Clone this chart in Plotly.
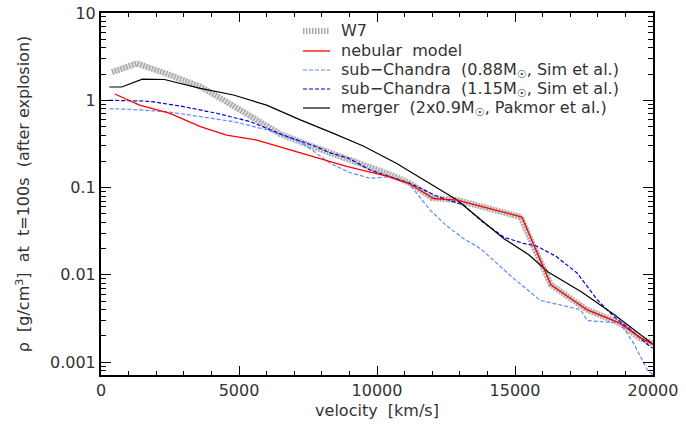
import plotly.graph_objects as go

# Density profiles at t = 100 s after explosion (velocity in km/s, density in g/cm^3)
w7_v = [400, 1300, 2500, 3600, 4500, 5500, 6500, 7500, 8500, 9500, 10500, 11200,
        12000, 12900, 15200, 16300, 17000, 17600, 18800, 19500, 20000]
w7_rho = [2.1, 2.65, 1.95, 1.43, 0.98, 0.64, 0.41, 0.31, 0.24, 0.18, 0.14, 0.112,
          0.076, 0.072, 0.046, 0.0077, 0.0054, 0.0040, 0.0028, 0.0019, 0.00163]

neb_v = [500, 1400, 2500, 3600, 4550, 5650, 6700, 7900, 8900, 10350, 11150, 12050,
         12900, 15250, 16300, 17000, 17600, 18800, 19550, 20000]
neb_rho = [1.18, 0.88, 0.71, 0.50, 0.40, 0.35, 0.28, 0.215, 0.175, 0.135, 0.112, 0.075,
           0.072, 0.046, 0.0077, 0.0054, 0.0040, 0.0028, 0.0019, 0.0016]

sub088_v = [300, 1000, 2400, 3600, 4800, 6000, 7200, 8300, 9030, 9750, 10480, 11150,
            11930, 12500, 13140, 13750, 14110, 14950, 15920, 16650, 17370, 17620,
            18200, 18820, 19300, 19800, 20000]
sub088_rho = [0.80, 0.79, 0.74, 0.65, 0.57, 0.46, 0.34, 0.19, 0.148, 0.128, 0.133, 0.112,
              0.055, 0.037, 0.026, 0.020, 0.0158, 0.0091, 0.0051, 0.0045, 0.0040, 0.0030,
              0.0029, 0.0028, 0.00164, 0.00081, 0.00072]

sub115_v = [300, 1600, 2000, 3000, 4200, 5400, 6600, 7800, 8300, 8970, 9750, 11200,
            12200, 13140, 13800, 14600, 15300, 15800, 16500, 17250, 18000, 18600,
            19200, 19900, 20000]
sub115_rho = [1.0, 0.98, 0.95, 0.845, 0.71, 0.57, 0.40, 0.294, 0.25, 0.217, 0.159, 0.112,
              0.079, 0.063, 0.041, 0.027, 0.023, 0.0213, 0.0162, 0.0105, 0.0051, 0.0033,
              0.00234, 0.0015, 0.00145]

merger_v = [300, 750, 1500, 2300, 3600, 4800, 6000, 7200, 8400, 9500, 10700, 11900,
            12900, 13750, 14600, 15500, 16200, 17400, 18600, 19800, 20000]
merger_rho = [1.42, 1.42, 1.75, 1.73, 1.37, 1.15, 0.88, 0.60, 0.42, 0.30, 0.19, 0.113,
              0.072, 0.043, 0.026, 0.017, 0.0108, 0.0064, 0.0035, 0.0018, 0.0016]

y_tickvals = [0.001, 0.01, 0.1, 1, 10]
y_ticktext = ["0.001", "0.01", "0.1", "1", "10"]
x_tickvals = [0, 5000, 10000, 15000, 20000]
x_ticktext = ["0", "5000", "10000", "15000", "20000"]

FONT = "DejaVu Sans"
TEXT = "#333333"
MSUN = "M<sub>\u2609</sub>"
NB = "\u00a0"

W, H = 686, 425
ML, MR, MT, MB = 101, 33, 13, 50
PW, PH = W - ML - MR, H - MT - MB


def px_x(px):
    return (px - ML) / PW


def px_y(py):
    return (H - MB - py) / PH


# legend entries: label, line style (drawn as a key beside the text)
legend_items = [
    ("W7", dict(color="#a8a8a8", width=6, dash="1.5px,1.5px")),
    ("nebular" + NB * 2 + "model", dict(color="#ff0000", width=1.3)),
    ("sub\u2212Chandra" + NB * 2 + "(0.88" + MSUN + "," + NB + "Sim" + NB + "et" + NB + "al.)",
     dict(color="#5b8cff", width=1.2, dash="4px,2px")),
    ("sub\u2212Chandra" + NB * 2 + "(1.15" + MSUN + "," + NB + "Sim" + NB + "et" + NB + "al.)",
     dict(color="#0000d8", width=1.2, dash="4px,2px")),
    ("merger" + NB * 2 + "(2x0.9" + MSUN + "," + NB + "Pakmor" + NB + "et" + NB + "al.)",
     dict(color="black", width=1.2)),
]
legend_rows = [31, 51, 70, 89, 108]

fig = go.Figure()

# W7: broad grey band with a hatched overlay
fig.add_trace(go.Scatter(x=w7_v, y=w7_rho, mode="lines", showlegend=False,
                         line=dict(color="#e2e2e2", width=6), hoverinfo="skip"))
fig.add_trace(go.Scatter(x=w7_v, y=w7_rho, mode="lines", name="W7", showlegend=False,
                         line=legend_items[0][1]))
fig.add_trace(go.Scatter(x=sub088_v, y=sub088_rho, mode="lines", showlegend=False,
                         name="sub-Chandra 0.88", line=legend_items[2][1]))
fig.add_trace(go.Scatter(x=sub115_v, y=sub115_rho, mode="lines", showlegend=False,
                         name="sub-Chandra 1.15", line=legend_items[3][1]))
fig.add_trace(go.Scatter(x=merger_v, y=merger_rho, mode="lines", showlegend=False,
                         name="merger", line=legend_items[4][1]))
fig.add_trace(go.Scatter(x=neb_v, y=neb_rho, mode="lines", showlegend=False,
                         name="nebular model", line=legend_items[1][1]))

for (label, style), row in zip(legend_items, legend_rows):
    fig.add_shape(type="line", xref="paper", yref="paper",
                  x0=px_x(303), x1=px_x(330), y0=px_y(row), y1=px_y(row), line=style)
    fig.add_annotation(xref="paper", yref="paper", x=px_x(339), y=px_y(row),
                       xanchor="left", yanchor="middle", showarrow=False, text=label,
                       font=dict(family=FONT, size=16, color=TEXT))

axis_common = dict(showline=True, linecolor="black", linewidth=2, mirror="ticks",
                   ticks="inside", tickcolor="black", tickwidth=1, showgrid=False,
                   zeroline=False, automargin=False,
                   tickfont=dict(family=FONT, size=16, color=TEXT))

fig.update_xaxes(range=[0, 20000], tickvals=x_tickvals, ticktext=x_ticktext, ticklen=9,
                 minor=dict(dtick=1000, ticks="inside", ticklen=4, tickcolor="black"),
                 title=dict(text="velocity" + NB * 2 + "[km/s]", standoff=6,
                            font=dict(family=FONT, size=16, color=TEXT)),
                 **axis_common)
fig.update_yaxes(type="log", range=[-3.147, 1], tickvals=y_tickvals, ticktext=y_ticktext,
                 ticklen=10,
                 minor=dict(ticks="inside", ticklen=5, tickcolor="black", dtick="D1"),
                 title=dict(text="\u03c1" + NB * 2 + "[g/cm<sup>3</sup>]" + NB * 2 + "at" + NB * 2
                            + "t=100s" + NB * 2 + "(after" + NB + "explosion)",
                            standoff=16, font=dict(family=FONT, size=16, color=TEXT)),
                 **axis_common)

fig.update_layout(
    width=W, height=H,
    margin=dict(l=ML, r=MR, t=MT, b=MB),
    paper_bgcolor="white", plot_bgcolor="white",
    font=dict(family=FONT, size=15, color=TEXT),
    showlegend=False,
)

fig.write_html("out.html")
